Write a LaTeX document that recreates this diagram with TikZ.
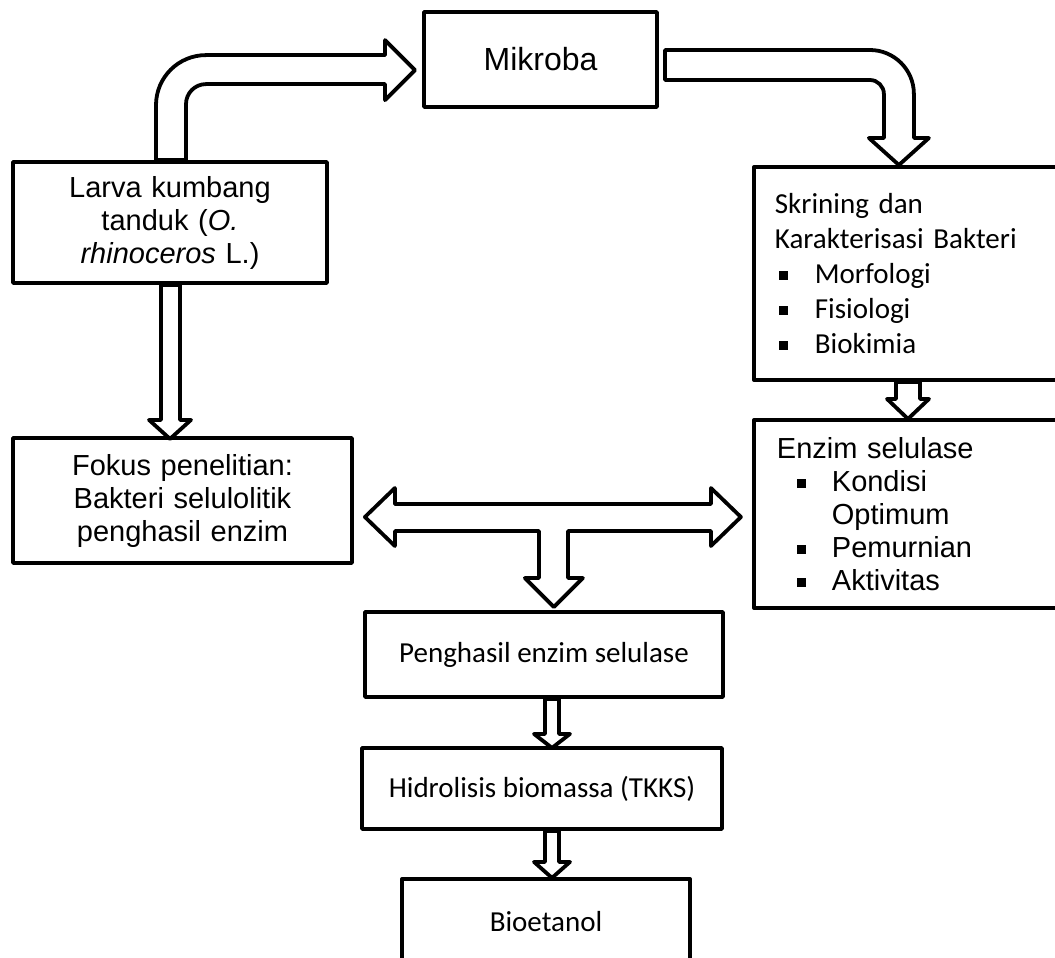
\documentclass[tikz,border=0pt]{standalone}
\usepackage{fontspec}
\setmainfont{Liberation Sans}
\newfontfamily\carlito{Carlito}
\usepackage{tikz}

\newcommand{\sqbul}{\rule[3pt]{9pt}{9pt}}

\begin{document}
\begin{tikzpicture}[x=1pt, y=1pt,
  box/.style={draw, line width=3.8pt, line join=round, inner sep=0pt},
  blockarrow/.style={draw, line width=3.8pt, line join=round, fill=white},
  arial/.style={font=\fontsize{29}{33}\selectfont},
  calib/.style={font=\carlito\fontsize{29}{35}\selectfont}]
\useasboundingbox (0,0) rectangle (1055,-958);
\clip (0,0) rectangle (1055,-958);

\node[box, minimum width=233pt, minimum height=95pt, font=\fontsize{32}{38}\selectfont] (mik) at (540.5,-59.5) {Mikroba};
\node[box, arial, minimum width=314pt, minimum height=121pt, text width=290pt, align=center] (lkt) at (170,-222.5)
  {Larva kumbang\\ tanduk (\textit{O.}\\ \textit{rhinoceros} L.)};
\node[box, arial, minimum width=339pt, minimum height=125pt, text width=310pt, align=center] (fok) at (182.5,-500.5)
  {Fokus penelitian:\\ Bakteri selulolitik\\ penghasil enzim};
\node[box, calib, anchor=west, inner xsep=21pt, text width=300pt, align=left, minimum height=213pt] (skr) at (752,-273.5)
  {Skrining dan\\ Karakterisasi Bakteri\\
   \makebox[40pt][l]{\hspace{4pt}\sqbul}Morfologi\\
   \makebox[40pt][l]{\hspace{4pt}\sqbul}Fisiologi\\
   \makebox[40pt][l]{\hspace{4pt}\sqbul}Biokimia};
\node[box, arial, anchor=west, inner xsep=23pt, text width=300pt, align=left, minimum height=188pt] (enz) at (752,-514)
  {Enzim selulase\\
   \makebox[55pt][l]{\hspace{20pt}\sqbul}Kondisi\\
   \hspace*{55pt}Optimum\\
   \makebox[55pt][l]{\hspace{20pt}\sqbul}Pemurnian\\
   \makebox[55pt][l]{\hspace{20pt}\sqbul}Aktivitas};
\node[box, calib, minimum width=358pt, minimum height=85pt] (pes) at (544,-654.5) {Penghasil enzim selulase};
\node[box, calib, minimum width=360pt, minimum height=81pt] (hid) at (542,-788.5) {Hidrolisis biomassa (TKKS)};
\node[box, calib, anchor=north, minimum width=288pt, minimum height=86pt] (bio) at (546,-877) {Bioetanol};

% larva -> mikroba
\draw[blockarrow] ([xshift=-14pt]lkt.north) -- ++(0,55) arc[start angle=180, end angle=90, radius=50]
  -- ++(179,0) -- ++(0,15) -- ++(30,-30) -- ++(-30,-30) -- ++(0,16) -- ++(-179,0)
  arc[start angle=90, end angle=180, radius=20] -- ++(0,-56) -- cycle;
% mikroba -> skrining
\draw[blockarrow] ([xshift=6pt,yshift=9.5pt]mik.east) -- ++(205,0) arc[start angle=90, end angle=0, radius=44]
  -- ++(0,-44) -- ++(15,0) -- ++(-30,-27) -- ++(-30,27) -- ++(15,0) -- ++(0,44)
  arc[start angle=0, end angle=90, radius=14] -- ++(-205,0) -- cycle;
% larva -> fokus
\draw[blockarrow] ([xshift=-9pt]lkt.south) -- ++(0,-135) -- ++(-12,0) -- ++(21,-19) -- ++(21,19)
  -- ++(-11,0) -- ++(0,135) -- cycle;
% skrining -> enzim
\draw[blockarrow] ([xshift=144pt]skr.south west) -- ++(0,-17) -- ++(-9,0) -- ++(21,-20) -- ++(21,20)
  -- ++(-9,0) -- ++(0,17) -- cycle;
% fokus <-> enzim, down to penghasil
\draw[blockarrow] ([xshift=11pt,yshift=-16.5pt]fok.east) -- ++(30,29) -- ++(0,-16) -- ++(316,0) -- ++(0,16)
  -- ++(30,-29) -- ++(-30,-29) -- ++(0,15) -- ++(-143,0) -- ++(0,-47) -- ++(15,0) -- ++(-29,-29)
  -- ++(-29,29) -- ++(14,0) -- ++(0,47) -- ++(-144,0) -- ++(0,-15) -- cycle;
% penghasil -> hidrolisis
\draw[blockarrow] ([xshift=1pt]pes.south) -- ++(0,-35) -- ++(-11,0) -- ++(18,-14) -- ++(18,14)
  -- ++(-11,0) -- ++(0,35) -- cycle;
% hidrolisis -> bioetanol
\draw[blockarrow] ([xshift=3pt]hid.south) -- ++(0,-31) -- ++(-11,0) -- ++(18,-16) -- ++(18,16)
  -- ++(-11,0) -- ++(0,31) -- cycle;
\end{tikzpicture}
\end{document}
